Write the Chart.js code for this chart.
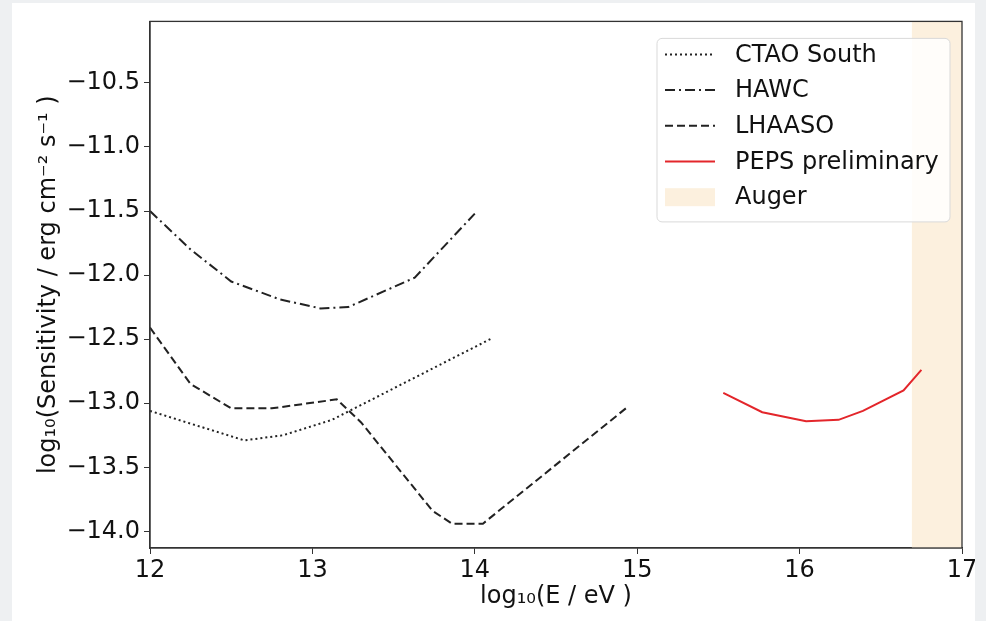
<!DOCTYPE html>
<html>
<head>
<meta charset="utf-8">
<script src="https://cdn.jsdelivr.net/npm/chart.js@4"></script>
<style>
  html, body { margin: 0; padding: 0; background: #eef0f2; }
  #wrap { position: absolute; left: 12px; top: 3px; width: 963px; height: 618px; background: #fff; }
  canvas { display: block; }
</style>
</head>
<body>
<div id="wrap"><canvas id="sensChart" width="963" height="618"></canvas></div>
<script>
// Sensitivity curves, log10(E/eV) vs log10(sensitivity)
const ctaoE = [12.0, 12.58, 12.82, 13.12, 14.11];
const ctaoS = [-13.06, -13.29, -13.25, -13.13, -12.49];

const hawcE = [12.0, 12.25, 12.5, 12.8, 13.05, 13.22, 13.63, 14.0];
const hawcS = [-11.5, -11.8, -12.05, -12.19, -12.26, -12.25, -12.02, -11.52];

const lhaasoE = [12.0, 12.25, 12.5, 12.75, 13.15, 13.3, 13.74, 13.86, 14.05, 14.94];
const lhaasoS = [-12.41, -12.85, -13.04, -13.04, -12.97, -13.15, -13.84, -13.94, -13.94, -13.03];

const pepsE = [15.53, 15.77, 16.04, 16.24, 16.39, 16.64, 16.75];
const pepsS = [-12.92, -13.07, -13.14, -13.13, -13.06, -12.9, -12.74];

const augerE = [16.69, 17.0];

const xTicks = [12, 13, 14, 15, 16, 17];
const yTicks = [-14.0, -13.5, -13.0, -12.5, -12.0, -11.5, -11.0, -10.5];
const yMin = -14.13, yMax = -10.02;

const FONT = 'DejaVu Sans';
const FSIZE = 24;
const pts = (xs, ys) => xs.map((x, i) => ({ x: x, y: ys[i] }));
const fmtY = v => (v < 0 ? '\u2212' : '') + Math.abs(v).toFixed(1);

// legend drawn inside the plot, top right
const insideLegend = {
    id: 'insideLegend',
    afterDraw(chart) {
        const ctx = chart.ctx;
        const area = chart.chartArea;
        const sets = chart.data.datasets;
        const w = 293, rowH = 35.7;
        const h = sets.length * rowH + 5;
        const x0 = area.right - 12 - w, y0 = area.top + 17;

        ctx.save();
        ctx.fillStyle = 'rgba(255,255,255,0.85)';
        ctx.strokeStyle = '#d9d9d9';
        ctx.lineWidth = 1;
        ctx.beginPath();
        ctx.roundRect(x0, y0, w, h, 5);
        ctx.fill();
        ctx.stroke();

        ctx.font = FSIZE + 'px ' + FONT;
        ctx.textBaseline = 'middle';
        sets.forEach((ds, i) => {
            const y = y0 + 16 + i * rowH;
            if (ds.fill) {
                ctx.fillStyle = ds.backgroundColor;
                ctx.fillRect(x0 + 8, y - 9, 50, 18);
            } else {
                ctx.strokeStyle = ds.borderColor;
                ctx.lineWidth = ds.borderWidth;
                ctx.setLineDash(ds.borderDash || []);
                ctx.beginPath();
                ctx.moveTo(x0 + 8, y);
                ctx.lineTo(x0 + 58, y);
                ctx.stroke();
                ctx.setLineDash([]);
            }
            ctx.fillStyle = '#111';
            ctx.fillText(ds.label, x0 + 78, y + 1);
        });
        ctx.restore();
    }
};

// top and right spines
const frame = {
    id: 'frame',
    afterDatasetsDraw(chart) {
        const { ctx, chartArea: a } = chart;
        ctx.save();
        ctx.strokeStyle = '#333';
        ctx.lineWidth = 1.3;
        ctx.strokeRect(a.left, a.top, a.right - a.left, a.bottom - a.top);
        ctx.restore();
    }
};

const ctx = document.getElementById('sensChart').getContext('2d');
new Chart(ctx, {
    type: 'line',
    data: {
        datasets: [
            { label: 'CTAO South', data: pts(ctaoE, ctaoS), borderColor: '#222', borderWidth: 2, borderDash: [2, 3] },
            { label: 'HAWC', data: pts(hawcE, hawcS), borderColor: '#222', borderWidth: 2, borderDash: [10, 4, 2, 4] },
            { label: 'LHAASO', data: pts(lhaasoE, lhaasoS), borderColor: '#222', borderWidth: 2, borderDash: [8, 4] },
            { label: 'PEPS preliminary', data: pts(pepsE, pepsS), borderColor: '#e3262b', borderWidth: 2 },
            { label: 'Auger', data: augerE.map(x => ({ x: x, y: yMax })), fill: 'start',
              backgroundColor: '#fcf0de', borderWidth: 0, borderColor: 'rgba(0,0,0,0)' }
        ]
    },
    options: {
        responsive: false,
        animation: false,
        devicePixelRatio: 1,
        layout: { padding: { top: 15, right: 13, left: 0, bottom: 0 } },
        elements: { point: { radius: 0 }, line: { tension: 0 } },
        plugins: { legend: { display: false }, tooltip: { enabled: false } },
        scales: {
            x: {
                type: 'linear',
                min: 12, max: 17,
                afterBuildTicks: s => { s.ticks = xTicks.map(v => ({ value: v })); },
                afterFit: s => { s.height = 73; s.paddingRight = 0; s.paddingLeft = 0; },
                grid: { drawOnChartArea: false, drawTicks: true, tickLength: 6, color: '#333' },
                border: { color: '#333', width: 1.3 },
                ticks: { color: '#111', font: { family: FONT, size: FSIZE }, padding: 2, maxRotation: 0 },
                title: { display: true, text: 'log\u2081\u2080(E / eV )', color: '#111',
                         font: { family: FONT, size: FSIZE }, padding: { top: 0, bottom: 10 } }
            },
            y: {
                min: yMin, max: yMax,
                afterBuildTicks: s => { s.ticks = yTicks.map(v => ({ value: v })); },
                afterFit: s => { s.width = 138; },
                grid: { drawOnChartArea: false, drawTicks: true, tickLength: 6, color: '#333' },
                border: { color: '#333', width: 1.3 },
                ticks: { color: '#111', font: { family: FONT, size: FSIZE }, padding: 4, callback: v => fmtY(v) },
                title: { display: true, text: 'log\u2081\u2080(Sensitivity / erg cm\u207B\u00B2 s\u207B\u00B9 )', color: '#111',
                         font: { family: FONT, size: FSIZE }, padding: { top: 22, bottom: 0 } }
            }
        }
    },
    plugins: [frame, insideLegend]
});
</script>
</body>
</html>
